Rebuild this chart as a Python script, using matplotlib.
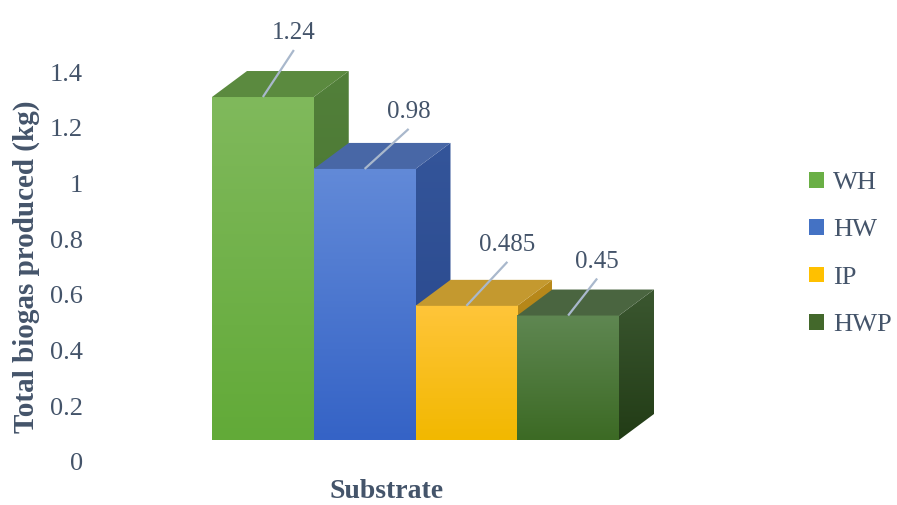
import numpy as np
import matplotlib.pyplot as plt
from matplotlib.patches import Polygon, Patch
from matplotlib.colors import LinearSegmentedColormap

plt.rcParams['font.family'] = ['Liberation Serif', 'DejaVu Serif']

substrates = ["WH", "HW", "IP", "HWP"]
biogas = [1.24, 0.98, 0.485, 0.45]
yticks = [0, 0.2, 0.4, 0.6, 0.8, 1, 1.2, 1.4]
ytick_labels = ["0", "0.2", "0.4", "0.6", "0.8", "1", "1.2", "1.4"]

# leader line ends, offset from the bar's front top edge (px right, px up)
label_offsets = [(31, 47), (44, 40), (41, 44), (29, 37)]

# front (top, bottom), top face, side (top, bottom), legend swatch
colors = {
    "WH":  ("#80b95c", "#62aa38", "#5b8a3f", "#52803a", "#456f2c", "#6aaf45"),
    "HW":  ("#628ad8", "#3563c6", "#4867a6", "#34559a", "#27468a", "#4472c4"),
    "IP":  ("#ffc53a", "#f2b800", "#c4992f", "#b98a1c", "#a87a08", "#ffc000"),
    "HWP": ("#5f8752", "#3c6a24", "#4a6540", "#3b5730", "#223c16", "#43682b"),
}
text_col = "#44546a"

W, H, DPI = 897, 505, 100
fig = plt.figure(figsize=(W / DPI, H / DPI), dpi=DPI)

# bar axes: front face baseline at 440px from top, 276.6 px per kg, 101.75 px per bar
px_x, px_y = 101.75, 276.6
left_px, base_px = 212, 440
ax = fig.add_axes([left_px / W, (H - base_px) / H, (W - left_px) / W, base_px / H])
ax.set_xlim(0, (W - left_px) / px_x)
ax.set_ylim(0, base_px / px_y)
ax.axis("off")

dx = 35 / px_x   # depth shift to the right
dy = 26 / px_y   # depth shift upwards


def vgrad(ax, c_top, c_bot, extent, clip=None):
    cmap = LinearSegmentedColormap.from_list("g", [c_bot, c_top])
    grad = np.linspace(0, 1, 256).reshape(-1, 1)
    im = ax.imshow(grad, cmap=cmap, origin="lower", extent=extent,
                   aspect="auto", zorder=2, interpolation="bicubic")
    if clip is not None:
        im.set_clip_path(clip)
    return im


for i, (name, val) in enumerate(zip(substrates, biogas)):
    ftop, fbot, ctop, stop, sbot, _ = colors[name]
    x0, x1 = i, i + 1
    # side face
    side = Polygon([(x1, 0), (x1 + dx, dy), (x1 + dx, val + dy), (x1, val)],
                   closed=True, facecolor="none", edgecolor="none")
    ax.add_patch(side)
    vgrad(ax, stop, sbot, (x1, x1 + dx, 0, val + dy), clip=side)
    # top face
    top = Polygon([(x0, val), (x0 + dx, val + dy), (x1 + dx, val + dy), (x1, val)],
                  closed=True, facecolor=ctop, edgecolor="none", zorder=3)
    ax.add_patch(top)
    # front face
    vgrad(ax, ftop, fbot, (x0, x1, 0, val))
    # leader line and value label
    xm = x0 + 0.5
    ox, oy = label_offsets[i]
    lx, ly = xm + ox / px_x, val + oy / px_y
    ax.plot([xm, lx], [val, ly], color="#a9b8cc", lw=1.6, zorder=4,
            solid_capstyle="butt")
    ax.text(lx, ly + 0.02, f"{val:g}", ha="center", va="bottom",
            fontsize=18, color=text_col, zorder=5)

# value axis labels
ax2 = fig.add_axes([90 / W, 43 / H, 0.05, 390 / H])
ax2.set_ylim(0, 1.4)
ax2.set_yticks(yticks)
ax2.set_yticklabels(ytick_labels)
ax2.tick_params(axis="y", length=0, pad=5, labelsize=19, labelcolor=text_col)
ax2.set_xticks([])
ax2.patch.set_visible(False)
for s in ax2.spines.values():
    s.set_visible(False)

fig.text(26 / W, 1 - 267 / H, "Total biogas produced (kg)", rotation=90,
         ha="center", va="center", fontsize=21, fontweight="bold", color=text_col)
fig.text(387 / W, 1 - 492 / H, "Substrate", ha="center", va="center",
         fontsize=20, fontweight="bold", color=text_col)

handles = [Patch(facecolor=colors[n][5], edgecolor="none", label=n) for n in substrates]
fig.legend(handles=handles, loc="center left", bbox_to_anchor=(809 / W, 1 - 254 / H),
           frameon=False, fontsize=19, handlelength=0.55, handleheight=0.55,
           handletextpad=0.35, labelspacing=0.95, labelcolor=text_col,
           borderpad=0, borderaxespad=0)

fig.savefig("out.png", dpi=DPI)
